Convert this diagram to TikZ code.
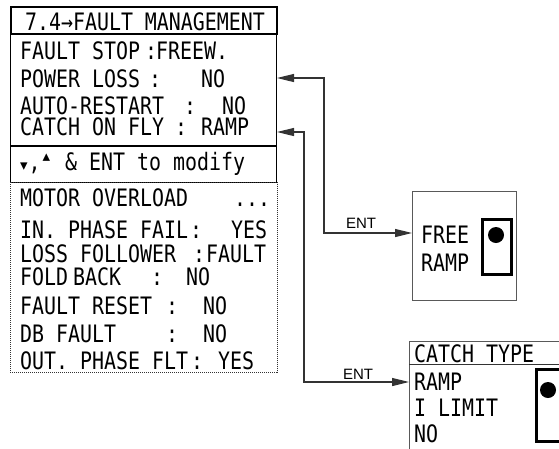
\documentclass[tikz,border=0pt]{standalone}
\usepackage{fontspec}
\setmainfont{Liberation Sans}
\newfontfamily\lcdfont[FakeStretch=0.83]{DejaVu Sans Mono}
\newfontfamily\dvsfont{DejaVu Sans}
\usetikzlibrary{arrows.meta,calc}
\begin{document}
\begin{tikzpicture}[x=1pt,y=-1pt,
  lcd/.style={font=\lcdfont\fontsize{24}{28}\selectfont, inner sep=0pt, anchor=base west},
  lcdc/.style={lcd, anchor=base},
  panelbox/.style={draw=black, line width=1pt, anchor=north west, inner sep=0pt},
  titlebox/.style={draw=black, line width=2.2pt, anchor=north west, inner sep=0pt},
  dotbox/.style={draw=black!80, line width=0.8pt, dash pattern=on 1pt off 1pt, anchor=north west, inner sep=0pt},
  graybox/.style={draw=black!65, line width=1pt, anchor=north west, inner sep=0pt},
  selbox/.style={draw=black, line width=2.6pt, anchor=north west, inner sep=0pt},
  selldot/.style={circle, fill=black, inner sep=0pt, minimum size=16pt},
  conn/.style={draw=black!80, line width=1.2pt, {Triangle[length=17pt,width=8pt]}-{Triangle[length=17pt,width=8pt]}},
  entlab/.style={font=\fontsize{15}{18}\selectfont, inner sep=0pt, anchor=base}
]
\useasboundingbox (0,0) rectangle (559,448);
\clip (0,0) rectangle (559,448);

% main panel
\node[panelbox, minimum width=266pt, minimum height=176pt] (panel) at (10,6) {};
\node[titlebox, minimum width=266pt, minimum height=27pt] (tbox) at (10,6) {};
\draw[line width=2.5pt] (panel.west |- 0,146) -- (panel.east |- 0,146);
\node[dotbox, minimum width=267pt, minimum height=190pt] (list) at (10,182) {};

\node[lcdc] (title) at (145,30) {7.4→FAULT MANAGEMENT};

\node[lcd] (r1l) at (20,59) {FAULT STOP};
\node[lcdc] (r1c) at (151,59) {:};
\node[lcd] (r1v) at (156,59) {FREEW.};

\node[lcd] (r2l) at (20,87) {POWER LOSS};
\node[lcdc] (r2c) at (155,87) {:};
\node[lcd] (r2v) at (201,87) {NO};

\node[lcd] (r3l) at (20,114) {AUTO-RESTART};
\node[lcdc] (r3c) at (190,114) {:};
\node[lcd] (r3v) at (222,114) {NO};

\node[lcd] (r4l) at (20,135) {CATCH ON FLY};
\node[lcdc] (r4c) at (181,135) {:};
\node[lcd] (r4v) at (201,135) {RAMP};

\node[lcd] (r5) at (20,170) {{\dvsfont\fontsize{15}{16}\selectfont ▾}\hspace{1pt},\hspace{2pt}\raisebox{9pt}{\dvsfont\fontsize{15}{16}\selectfont ▴}\hspace{3pt} \& ENT to modify};

\node[lcd] (r6l) at (20,206) {MOTOR OVERLOAD};
\node[lcd] (r6v) at (234,206) {...};

\node[lcd] (r7l) at (20,238) {IN. PHASE FAIL};
\node[lcdc] (r7c) at (196,238) {:};
\node[lcd] (r7v) at (231,238) {YES};

\node[lcd] (r8l) at (20,262) {LOSS FOLLOWER};
\node[lcdc] (r8c) at (199,262) {:};
\node[lcd] (r8v) at (206,262) {FAULT};

\node[lcd] (r9l) at (20,285) {FOLD\hspace{5pt}BACK};
\node[lcdc] (r9c) at (157,285) {:};
\node[lcd] (r9v) at (186,285) {NO};

\node[lcd] (r10l) at (20,314) {FAULT RESET};
\node[lcdc] (r10c) at (172,314) {:};
\node[lcd] (r10v) at (203,314) {NO};

\node[lcd] (r11l) at (20,342) {DB FAULT};
\node[lcdc] (r11c) at (172,342) {:};
\node[lcd] (r11v) at (203,342) {NO};

\node[lcd] (r12l) at (20,369) {OUT. PHASE FLT};
\node[lcdc] (r12c) at (197,369) {:};
\node[lcd] (r12v) at (218,369) {YES};

% FREE / RAMP box
\node[graybox, minimum width=104pt, minimum height=109pt] (free) at (412,191) {};
\node[lcd] (freet) at (421,243) {FREE};
\node[lcd] (rampt) at (421,271) {RAMP};
\node[selbox, minimum width=29pt, minimum height=55pt] (sel1) at (481,218) {};
\node[selldot] (dot1) at (496,235) {};

% CATCH TYPE box
\node[graybox, minimum width=200pt, minimum height=150pt] (catch) at (409,341) {};
\draw[black!80, line width=1pt] (catch.west |- 0,364) -- (catch.east |- 0,364);
\node[lcd] (catcht) at (414,362) {CATCH TYPE};
\node[lcd] (c1) at (414,390) {RAMP};
\node[lcd] (c2) at (414,416) {I LIMIT};
\node[lcd] (c3) at (414,442) {NO};
\node[selbox, minimum width=60pt, minimum height=72pt] (sel2) at (535,368) {};
\node[selldot] (dot2) at (548,390) {};

% connectors
\draw[conn] (panel.east |- 0,78) -- ++(47,0) |- (free.west |- 0,233);
\draw[conn] (panel.east |- 0,132) -- ++(27,0) |- (catch.west |- 0,382);
\node[entlab] (ent1) at (361,228) {ENT};
\node[entlab] (ent2) at (358,379) {ENT};
\end{tikzpicture}
\end{document}
